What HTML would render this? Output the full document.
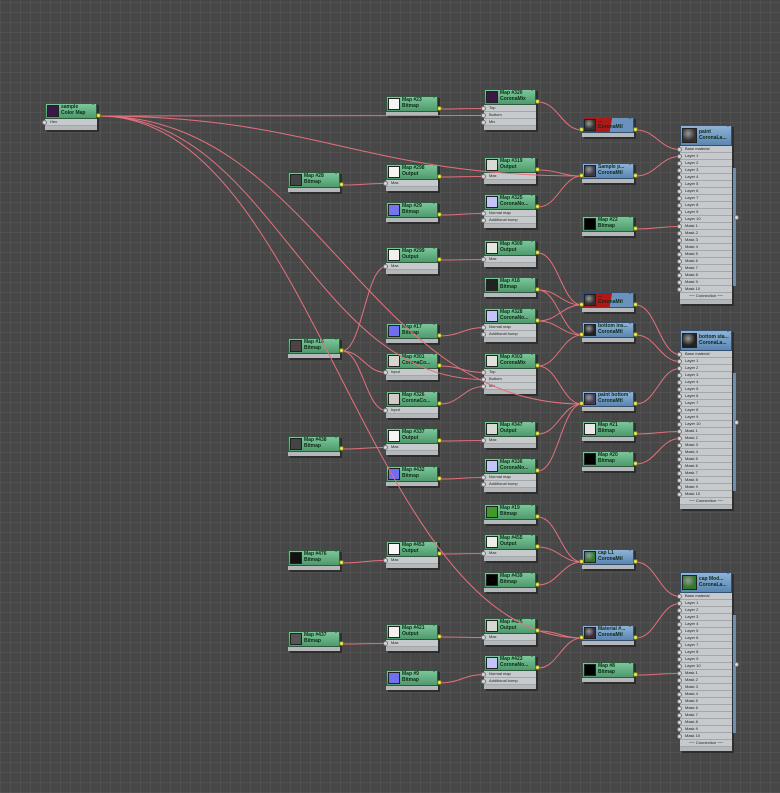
<!DOCTYPE html>
<html><head><meta charset="utf-8">
<style>
html,body{margin:0;padding:0}
body{width:780px;height:793px;overflow:hidden;position:relative;font-family:"Liberation Sans",sans-serif;
background-color:#474747;
background-image:repeating-linear-gradient(90deg,rgba(255,255,255,0.05) 0 1px,transparent 1px 10px),repeating-linear-gradient(0deg,rgba(255,255,255,0.05) 0 1px,transparent 1px 10px);}
.n{position:absolute;box-shadow:2px 2px 0 #2e2e2e;}
.h{position:relative;height:16px;border:1px solid #2f5a40;box-sizing:border-box;background:linear-gradient(#7cc79a,#4f9a6c);}
.h.b{background:linear-gradient(#8fb3d6,#5a86b3);border-color:#34506e}
.th{position:absolute;left:1px;top:1px;width:12px;height:12px;border:1px solid #222;box-sizing:border-box}
.t{position:absolute;left:15px;top:0px;font-size:5px;line-height:6px;color:#0d2a18;font-weight:bold;white-space:nowrap;overflow:hidden;width:34px}
.x{position:absolute;right:2px;top:-2px;font-size:6px;color:#123}
.s{height:7px;background:#c6cacd;border-bottom:1px solid #a3a7aa;box-sizing:border-box;font-size:4px;line-height:6px;color:#222;padding-left:5px;white-space:nowrap;position:relative}
.f{height:4px;background:#b4b8bb}
.p{position:absolute;width:5px;height:5px;border-radius:50%;background:#e4f04a;border:1px solid #7a7a20;box-sizing:border-box}
.pi{background:#d8dadd;border-color:#777}
</style></head><body>
<svg id="w" width="780" height="793" style="position:absolute;left:0;top:0;z-index:1" fill="none" stroke="#e5707c" stroke-width="1"></svg>
<div id="root" style="position:absolute;left:0;top:0;z-index:0"></div>
<script>
const L=["Base material","Layer 1","Layer 2","Layer 3","Layer 4","Layer 5","Layer 6","Layer 7","Layer 8","Layer 9","Layer 10","Mask 1","Mask 2","Mask 3","Mask 4","Mask 5","Mask 6","Mask 7","Mask 8","Mask 9","Mask 10"];
const N={
S:[45,103,"sample","Color Map","#3a1a44",["Hex"]],
m23:[386,96,"Map #23","Bitmap","#f4f4f4",[]],
m28:[288,172,"Map #28","Bitmap","#444",[]],
m298:[386,164,"Map #298","Output","#f4f4f4",["Max"]],
m29:[386,202,"Map #29","Bitmap","#7575f0",[]],
m299:[386,247,"Map #299","Output","#f0f0ec",["Max"]],
m16:[288,338,"Map #16","Bitmap","#4a4444",[]],
m17:[386,323,"Map #17","Bitmap","#6f6ff0",[]],
m301:[386,353,"Map #301","CoronaCo...","#d8d4d0",["Input"]],
m326:[386,391,"Map #326","CoronaCo...","#d0ccc8",["Input"]],
m438:[288,436,"Map #438","Bitmap","#444",[]],
m337:[386,428,"Map #337","Output","#f4f4f4",["Max"]],
m432:[386,466,"Map #432","Bitmap","#6f6ff0",[]],
m476:[288,550,"Map #476","Bitmap","#111",[]],
m453:[386,541,"Map #453","Output","#f8f8f8",["Max"]],
m437:[288,631,"Map #437","Bitmap","#555",[]],
m421:[386,624,"Map #421","Output","#f4f0f0",["Max"]],
m9:[386,670,"Map #9","Bitmap","#7070f0",[]],
m320:[484,89,"Map #320","CoronaMix","#3a1a44",["Top","Bottom","Mix"]],
m319:[484,157,"Map #319","Output","#d8dad6",["Max"]],
m325:[484,194,"Map #325","CoronaNo...","#c4c4fa",["Normal map","Additional bump"]],
m300:[484,240,"Map #300","Output","#e4e6e0",["Max"]],
m18:[484,277,"Map #18","Bitmap","#222",[]],
m328:[484,308,"Map #328","CoronaNo...","#c4c4fa",["Normal map","Additional bump"]],
m303:[484,353,"Map #303","CoronaMix","#e0e2de",["Top","Bottom","Mix"]],
m347:[484,421,"Map #347","Output","#d8dad6",["Max"]],
m336:[484,458,"Map #336","CoronaNo...","#c4c4fa",["Normal map","Additional bump"]],
m19:[484,504,"Map #19","Bitmap","#3f9a2a",[]],
m455:[484,534,"Map #455","Output","#ecefe8",["Max"]],
m439:[484,572,"Map #439","Bitmap","#000",[]],
m425:[484,618,"Map #425","Output","#d8d6d4",["Max"]],
m423:[484,655,"Map #423","CoronaNo...","#c4c4fa",["Normal map","Additional bump"]],
b1:[582,117,"...","CoronaMtl","#333",[],1,1],
b2:[582,163,"Sample p...","CoronaMtl","#3a3a48",[],1],
m22:[582,216,"Map #22","Bitmap","#000",[]],
b3:[582,292,"...","CoronaMtl","#333",[],1,1],
b4:[582,322,"bottom ins...","CoronaMtl","#222",[],1],
b5:[582,391,"paint bottom","CoronaMtl","#443a55",[],1],
m21:[582,421,"Map #21","Bitmap","#e8e8e8",[]],
m20:[582,451,"Map #20","Bitmap","#000",[]],
b6:[582,549,"cap L1","CoronaMtl","#2f7a2a",[],1],
b7:[582,625,"Material #...","CoronaMtl","#3a2a3a",[],1],
m8:[582,662,"Map #8","Bitmap","#000",[]],
E1:[680,125,"paint","CoronaLa...","#333",L,1,0,1],
E2:[680,330,"bottom sta...","CoronaLa...","#222",L,1,0,1],
E3:[680,572,"cap Mod...","CoronaLa...","#2f7a2a",L,1,0,1]
};
const root=document.getElementById('root');const P={};
for(const k in N){const [x,y,t1,t2,c,sl,blue,red,lay]=N[k];
 const d=document.createElement('div');d.className='n';d.style.left=x+'px';d.style.top=y+'px';d.style.width='52px';
 const hh=lay?21:16;
 let h='<div class="h'+(blue?' b':'')+'" style="height:'+hh+'px'+(red?';background:linear-gradient(100deg,#b01818 0 55%,#6a92bc 56%)':'')+'"><div class="th" style="background:'+c+(lay?';width:15px;height:15px;top:2px':'')+(blue||lay?';background:radial-gradient(circle at 40% 35%,#999,'+c+' 60%)':'')+'"></div><div class="t" style="'+(lay?'left:18px;top:3px':'')+'">'+t1+'<br>'+t2+'</div><div class="x">-</div></div>';
 sl.forEach(s=>{h+='<div class="s">'+s+'</div>'});
 if(lay)h+='<div class="s" style="text-align:center;padding:0">── Connection ──</div>';
 h+='<div class="f"></div>';
 d.innerHTML=h;root.appendChild(d);
 if(lay){const tot=hh+(sl.length+1)*7+4;const bar=document.createElement('div');bar.style.cssText='position:absolute;left:'+(x+53)+'px;top:'+(y+hh+22)+'px;width:3px;height:'+(tot-hh-40)+'px;background:#6d8fb3';root.appendChild(bar);
  const q=document.createElement('div');q.className='p pi';q.style.left=(x+54)+'px';q.style.top=(y+tot/2)+'px';root.appendChild(q);}
 P[k]={o:[x+54,y+hh-3],i:sl.map((s,j)=>[x,y+hh+j*7+3.5])};
 // ports
 const o=document.createElement('div');if(!lay){o.className='p';o.style.left=(x+51)+'px';o.style.top=(y+hh-6)+'px';o.style.zIndex=2;document.body.appendChild(o);}
 sl.forEach((s,j)=>{const q=document.createElement('div');q.className='p pi';q.dataset.k=k+j;q.style.left=(x-3)+'px';q.style.top=(y+hh+j*7+1)+'px';q.style.zIndex=2;document.body.appendChild(q);});
 if(blue&&!lay){const q=document.createElement('div');q.className='p';q.style.left=(x-3)+'px';q.style.top=(y+hh-6)+'px';q.style.zIndex=2;document.body.appendChild(q);P[k].i=[[x,y+hh-3]];}
}
const W=[["S","m320",1],["S","b2",0],["S","m303",1],["S","b5",0],["S","b7",0],
["m23","m320",0],["m320","b1",0],["m28","m298",0],["m298","m319",0],["m319","b2",0],["m29","m325",0],["m325","b2",0],
["b1","E1",0],["b2","E1",1],["m22","E1",11],
["m16","m299",0],["m16","m301",0],["m16","m326",0],["m299","m300",0],["m300","b3",0],["m18","b3",0],["m18","b4",0],
["m17","m328",0],["m328","b4",0],["m328","b3",0],["m301","m303",0],["m326","m303",2],["m303","b4",0],["m303","b5",0],
["m438","m337",0],["m337","m347",0],["m347","b5",0],["m432","m336",0],["m336","b5",0],
["b3","E2",0],["b4","E2",1],["b5","E2",2],["m21","E2",11],["m20","E2",12],
["m19","b6",0],["m455","b6",0],["m439","b6",0],["m476","m453",0],["m453","m455",0],
["m437","m421",0],["m421","m425",0],["m425","b7",0],["m423","b7",0],["m9","m423",0],
["b6","E3",0],["b7","E3",1],["m8","E3",11]];
let s='';
W.forEach(([a,b,j])=>{const [x1,y1]=P[a].o;const [x2,y2]=P[b].i[j];const dx=Math.max(20,(x2-x1)*0.45);
 s+='<path d="M'+x1+' '+y1+' C'+(x1+dx)+' '+y1+' '+(x2-dx)+' '+y2+' '+x2+' '+y2+'"/>';});
document.getElementById('w').innerHTML=s;
</script>
</body></html>
